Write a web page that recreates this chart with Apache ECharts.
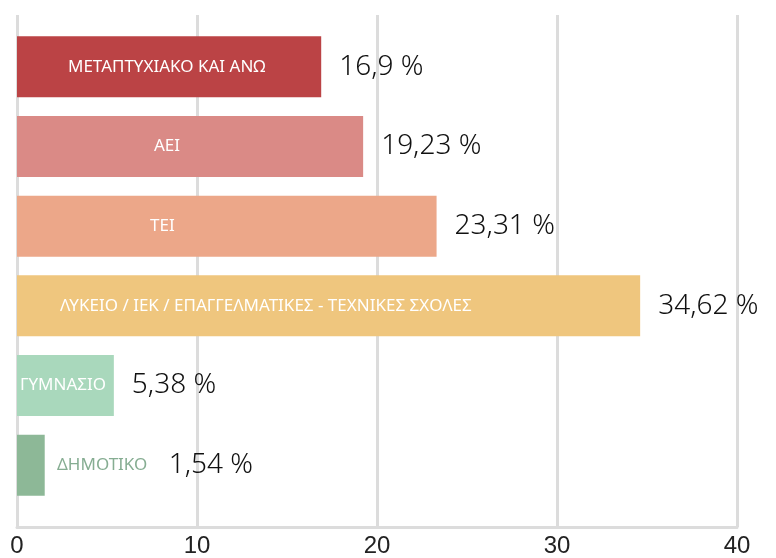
<!DOCTYPE html>
<html>
<head>
<meta charset="utf-8">
<script src="https://cdn.jsdelivr.net/npm/echarts@6/dist/echarts.min.js"></script>
<style>
  html, body { margin: 0; padding: 0; background: #fff; }
  #chart { width: 776px; height: 558px; }
</style>
</head>
<body>
<div id="chart"></div>
<script>
// data
const categories = ['ΜΕΤΑΠΤΥΧΙΑΚΟ ΚΑΙ ΑΝΩ', 'ΑΕΙ', 'ΤΕΙ',
  'ΛΥΚΕΙΟ / ΙΕΚ / ΕΠΑΓΓΕΛΜΑΤΙΚΕΣ - ΤΕΧΝΙΚΕΣ ΣΧΟΛΕΣ', 'ΓΥΜΝΑΣΙΟ', 'ΔΗΜΟΤΙΚΟ']
const values = [16.9, 19.23, 23.31, 34.62, 5.38, 1.54]
const xTicks = [0, 10, 20, 30, 40]

// styles
const barColors = ['#bb4345', '#da8a86', '#eca789', '#efc67e', '#a9d8bc', '#8db897']
const nameColors = ['#fff', '#fff', '#fff', '#fff', '#fff', '#86ad92']
const nameOffsetX = [51, 137, 133, 43, 3, 40]   // where the inside name starts in each bar
const valueOffsetX = [0, 0, 0, 0, 0, 106]

const chart = echarts.init(document.getElementById('chart'))

const option = {
  animation: false,
  grid: [
    {left: 17, right: 39, top: 15, bottom: 27},   // axis + gridlines
    {left: 17, right: 39, top: 27, bottom: 53}    // bars
  ],
  xAxis: [{
    gridIndex: 0,
    type: 'value',
    min: xTicks[0],
    max: xTicks[xTicks.length - 1],
    interval: 10,
    axisLine: {show: true, lineStyle: {color: '#dcdcdc', width: 3}},
    axisTick: {show: false},
    splitLine: {show: true, lineStyle: {color: '#dcdcdc', width: 3}},
    axisLabel: {color: '#222', fontSize: 24, fontFamily: 'Liberation Sans', margin: 7}
  }, {
    gridIndex: 1,
    type: 'value',
    min: xTicks[0],
    max: xTicks[xTicks.length - 1],
    show: false
  }],
  yAxis: [{
    gridIndex: 0,
    type: 'value',
    show: false
  }, {
    gridIndex: 1,
    type: 'category',
    data: categories,
    inverse: true,
    show: false
  }],
  series: [{
    // bars with category names
    type: 'bar',
    xAxisIndex: 1,
    yAxisIndex: 1,
    barWidth: 61,
    data: values.map((v, i) => ({
      value: v,
      itemStyle: {color: barColors[i]},
      label: {
        show: true,
        position: [nameOffsetX[i], '50%'],
        verticalAlign: 'middle',
        align: 'left',
        formatter: categories[i],
        color: nameColors[i],
        fontSize: 17,
        fontFamily: 'Noto Sans'
      }
    }))
  }, {
    // same bars, transparent, carrying the value labels
    type: 'bar',
    xAxisIndex: 1,
    yAxisIndex: 1,
    barWidth: 61,
    barGap: '-100%',
    itemStyle: {color: 'rgba(0,0,0,0)'},
    data: values.map((v, i) => ({
      value: v,
      label: {
        show: true,
        position: 'right',
        distance: 18,
        offset: [valueOffsetX[i], 0],
        formatter: p => String(p.value).replace('.', ',') + ' %',
        color: '#111',
        fontSize: 28,
        fontWeight: 300,
        fontFamily: 'Noto Sans'
      }
    }))
  }]
}

chart.setOption(option)
</script>
</body>
</html>
